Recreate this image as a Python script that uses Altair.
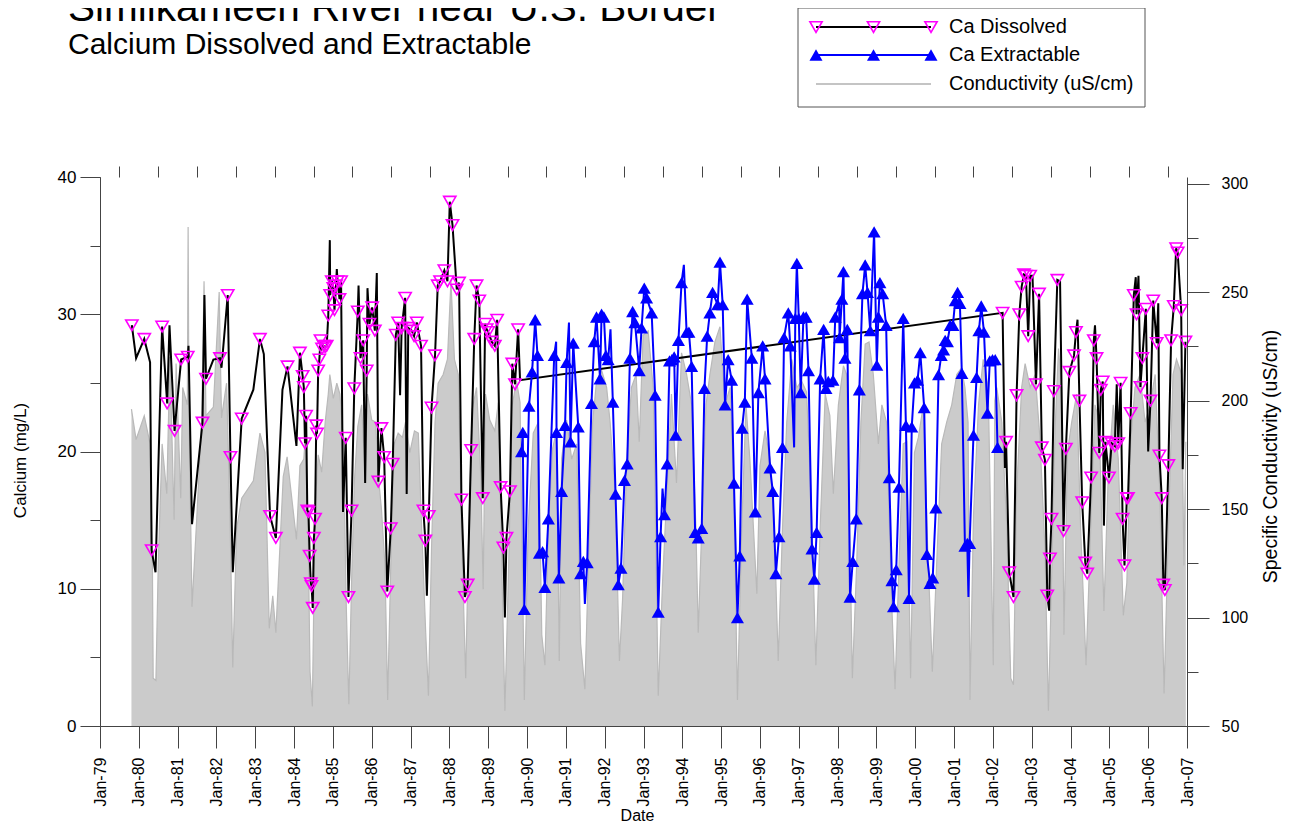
import altair as alt
import pandas as pd

# ---------------- data ----------------
# Ca Dissolved: sampled points (shown with markers)
dis_t = [1979.82, 1980.14, 1980.33, 1980.60, 1980.73, 1980.92, 1981.09, 1981.26, 1981.64, 1981.73,
         1982.09, 1982.29, 1982.36, 1982.65, 1983.12, 1983.38, 1983.53, 1983.83, 1984.15, 1984.22,
         1984.25, 1984.28, 1984.31, 1984.34, 1984.37, 1984.40, 1984.43, 1984.45, 1984.48, 1984.51,
         1984.54, 1984.57, 1984.59, 1984.62, 1984.65, 1984.68, 1984.72, 1984.76, 1984.80, 1984.84,
         1984.88, 1984.93, 1984.97, 1985.01, 1985.04, 1985.08, 1985.12, 1985.17, 1985.21, 1985.33,
         1985.40, 1985.48, 1985.55, 1985.64, 1985.71, 1985.78, 1985.87, 1985.94, 1986.01, 1986.08,
         1986.17, 1986.25, 1986.32, 1986.40, 1986.49, 1986.54, 1986.62, 1986.68, 1986.77, 1986.86,
         1986.94, 1987.03, 1987.09, 1987.16, 1987.27, 1987.33, 1987.38, 1987.47, 1987.54, 1987.63,
         1987.70, 1987.76, 1987.87, 1987.95, 1988.01, 1988.08, 1988.19, 1988.25, 1988.31, 1988.40,
         1988.47, 1988.56, 1988.64, 1988.70, 1988.77, 1988.86, 1988.92, 1988.96, 1989.00, 1989.09,
         1989.17, 1989.23, 1989.32, 1989.39, 1989.47, 1989.56, 1989.62, 1989.69, 1989.77,
         2002.25, 2002.34, 2002.42, 2002.53, 2002.61, 2002.68, 2002.74, 2002.80, 2002.85, 2002.91,
         2002.96, 2003.11, 2003.19, 2003.26, 2003.34, 2003.40, 2003.47, 2003.51, 2003.57, 2003.66,
         2003.82, 2003.88, 2003.97, 2004.09, 2004.14, 2004.23, 2004.30, 2004.38, 2004.43, 2004.53,
         2004.60, 2004.67, 2004.74, 2004.78, 2004.83, 2004.90, 2004.99, 2005.06, 2005.14, 2005.23,
         2005.29, 2005.34, 2005.39, 2005.45, 2005.48, 2005.55, 2005.63, 2005.70, 2005.80, 2005.85,
         2005.94, 2006.06, 2006.13, 2006.22, 2006.29, 2006.35, 2006.39, 2006.43, 2006.52, 2006.59,
         2006.66, 2006.72, 2006.76, 2006.85, 2006.96]
dis_v = [29.2, 28.2, 12.8, 29.1, 23.5, 21.5, 26.7, 26.9, 22.1, 25.3,
         26.8, 31.4, 19.6, 22.4, 28.2, 15.3, 13.7, 26.2, 27.2, 25.5,
         24.7, 20.6, 22.6, 15.7, 15.6, 12.4, 10.4, 10.2, 8.6, 13.7,
         15.1, 21.9, 21.3, 25.9, 26.7, 28.1, 27.5, 27.7, 27.6, 27.7,
         29.9, 31.4, 32.4, 31.9, 30.3, 32.1, 32.4, 31.1, 32.4, 21.0,
         9.4, 15.7, 24.6, 30.2, 26.8, 28.1, 25.9, 29.3, 30.5, 28.8,
         17.8, 21.7, 19.6, 9.8, 14.4, 19.1, 28.5, 29.4, 29.0, 31.2,
         29.0, 28.8, 28.4, 29.4, 27.7, 15.7, 13.5, 15.3, 23.2, 27.0,
         32.1, 32.4, 33.2, 32.4, 38.2, 36.5, 31.8, 32.3, 16.5, 9.4,
         10.3, 20.1, 28.2, 32.1, 31.0, 16.6, 29.3, 28.9, 28.7, 28.0,
         27.7, 29.6, 17.4, 13.0, 13.7, 17.1, 26.4, 24.9, 28.9,
         30.1, 20.7, 11.2, 9.4, 24.1, 30.0, 32.0, 32.9, 32.8, 28.4,
         32.8, 24.9, 31.5, 20.3, 19.4, 9.5, 12.2, 15.1, 24.4, 32.5,
         14.2, 20.2, 25.8, 27.0, 28.7, 23.7, 16.3, 11.9, 11.1, 18.1,
         28.1, 26.8, 19.9, 24.5, 25.1, 20.7, 18.1, 20.6, 20.4, 20.6,
         25.0, 15.1, 11.7, 16.6, 16.6, 22.8, 31.4, 30.0, 24.7, 26.8,
         30.4, 23.7, 31.0, 27.9, 19.7, 16.6, 10.3, 9.9, 19.0, 28.1,
         30.6, 34.8, 34.5, 30.3, 28.0]
# Ca Dissolved: extra line vertices without a marker
disx_t = [1979.93, 1980.29, 1980.43, 1980.79, 1981.28, 1981.37, 1981.69, 1981.92, 1982.13, 1982.42,
          1982.95, 1983.22, 1983.70, 1984.06, 1984.92, 1985.10, 1985.26, 1985.66, 1985.83, 1985.89,
          1986.13, 1986.73, 1986.90, 1987.42, 1989.43, 1989.82,
          2002.31, 2003.02, 2003.45, 2003.73, 2004.18, 2004.63, 2004.86, 2005.19, 2005.68, 2005.75,
          2006.00, 2006.26, 2006.89]
disx_v = [26.8, 26.5, 11.2, 29.2, 27.7, 14.7, 31.4, 26.7, 26.1, 11.2,
          24.5, 27.1, 24.5, 20.4, 35.4, 33.3, 15.6, 32.1, 17.7, 31.9,
          33.0, 24.1, 16.9, 9.5, 7.9, 25.2,
          18.8, 32.8, 8.4, 32.4, 29.6, 29.2, 14.6, 24.9, 32.7, 32.8,
          20.0, 30.8, 18.7]

# Ca Extractable: sampled points (markers)
ext_t = [1989.86, 1989.89, 1989.93, 1990.05, 1990.13, 1990.21, 1990.27, 1990.32, 1990.40, 1990.46,
         1990.55, 1990.70, 1990.76, 1990.82, 1990.89, 1990.98, 1991.02, 1991.12, 1991.19, 1991.32,
         1991.38, 1991.45, 1991.55, 1991.66, 1991.73, 1991.79, 1991.88, 1991.92, 1991.98, 1992.03,
         1992.09, 1992.21, 1992.28, 1992.35, 1992.42, 1992.51, 1992.58, 1992.65, 1992.72, 1992.78,
         1992.89, 1992.95, 1993.02, 1993.08, 1993.21, 1993.30, 1993.38, 1993.44, 1993.54, 1993.61,
         1993.67, 1993.73, 1993.79, 1993.83, 1993.90, 1993.98, 1994.11, 1994.17, 1994.24, 1994.33,
         1994.41, 1994.50, 1994.57, 1994.64, 1994.71, 1994.78, 1994.91, 1994.97, 1995.04, 1995.10,
         1995.18, 1995.27, 1995.33, 1995.42, 1995.48, 1995.54, 1995.61, 1995.67, 1995.79, 1995.88,
         1995.96, 1996.07, 1996.13, 1996.26, 1996.33, 1996.41, 1996.49, 1996.58, 1996.62, 1996.73,
         1996.78, 1996.91, 1996.95, 1997.00, 1997.05, 1997.12, 1997.19, 1997.25, 1997.34, 1997.40,
         1997.46, 1997.55, 1997.64, 1997.70, 1997.76, 1997.88, 1997.94, 1998.05, 1998.11, 1998.15,
         1998.19, 1998.25, 1998.32, 1998.39, 1998.48, 1998.56, 1998.64, 1998.71, 1998.77, 1998.84,
         1998.94, 1999.01, 1999.05, 1999.09, 1999.16, 1999.25, 1999.33, 1999.40, 1999.44, 1999.51,
         1999.58, 1999.69, 1999.76, 1999.84, 1999.91, 1999.98, 2000.06, 2000.13, 2000.23, 2000.30,
         2000.38, 2000.45, 2000.53, 2000.60, 2000.67, 2000.73, 2000.77, 2000.83, 2000.90, 2000.97,
         2001.03, 2001.09, 2001.15, 2001.20, 2001.28, 2001.34, 2001.40, 2001.50, 2001.58, 2001.64,
         2001.70, 2001.77, 2001.86, 2001.92, 2001.99, 2002.06, 2002.12]
ext_v = [20.0, 21.4, 8.5, 23.3, 25.8, 29.6, 27.0, 12.6, 12.7, 10.1,
         15.1, 27.0, 21.4, 10.8, 17.1, 21.9, 26.5, 20.7, 27.9, 21.8,
         11.1, 12.0, 11.9, 23.5, 28.0, 29.8, 25.3, 30.0, 29.8, 27.0,
         26.7, 23.6, 16.9, 10.3, 11.5, 17.9, 19.1, 26.8, 30.2, 29.4,
         25.9, 29.0, 31.9, 31.2, 30.1, 24.1, 8.3, 13.8, 15.4, 19.1,
         26.6, 26.7, 26.9, 21.2, 28.1, 32.3, 28.7, 28.7, 26.2, 14.1,
         13.7, 14.4, 24.6, 28.4, 30.1, 31.6, 30.7, 33.8, 30.7, 23.4,
         26.7, 25.2, 17.7, 7.9, 12.4, 21.7, 23.6, 31.1, 26.8, 15.6,
         24.3, 27.7, 25.3, 18.8, 17.1, 11.1, 13.8, 20.3, 28.3, 30.1,
         27.7, 29.7, 33.7, 29.7, 24.3, 29.8, 29.8, 25.9, 12.9, 10.7,
         14.1, 25.3, 28.9, 24.6, 25.1, 25.2, 29.8, 28.3, 31.1, 33.1,
         26.8, 28.9, 9.4, 12.0, 15.1, 24.5, 31.5, 33.6, 31.6, 28.8,
         36.0, 26.3, 29.8, 32.3, 31.5, 29.2, 18.1, 10.6, 8.7, 11.4,
         17.4, 29.7, 21.9, 9.3, 21.8, 25.0, 25.2, 27.2, 23.2, 12.5,
         10.4, 10.8, 15.9, 25.6, 27.0, 27.4, 28.1, 28.0, 29.2, 29.2,
         31.0, 31.6, 30.8, 25.7, 13.1, 13.3, 13.3, 21.2, 25.4, 28.8,
         30.6, 28.7, 22.8, 26.6, 26.7, 26.7, 20.3]
# Ca Extractable: extra line vertices without a marker
extx_t = [1990.75, 1991.08, 1991.49, 1992.15, 1993.49, 1994.04, 1996.88, 1998.04, 2001.37]
extx_v = [28.0, 29.4, 8.9, 28.9, 17.3, 33.6, 20.3, 30.8, 9.4]

# Specific conductivity (right axis)
cond_t = [1979.81, 1979.93, 1980.14, 1980.29, 1980.35, 1980.37, 1980.44, 1980.50, 1980.60, 1980.72,
          1980.80, 1980.91, 1980.96, 1981.08, 1981.13, 1981.25, 1981.27, 1981.29, 1981.37, 1981.49,
          1981.62, 1981.68, 1981.73, 1981.92, 1982.07, 1982.13, 1982.26, 1982.35, 1982.42, 1982.52,
          1982.65, 1982.95, 1983.12, 1983.25, 1983.36, 1983.45, 1983.53, 1983.72, 1983.82, 1984.06,
          1984.15, 1984.25, 1984.28, 1984.36, 1984.41, 1984.47, 1984.54, 1984.62, 1984.71, 1984.80,
          1984.88, 1984.92, 1985.01, 1985.10, 1985.18, 1985.27, 1985.34, 1985.41, 1985.48, 1985.55,
          1985.64, 1985.74, 1985.83, 1985.89, 1986.00, 1986.10, 1986.17, 1986.25, 1986.34, 1986.41,
          1986.49, 1986.58, 1986.68, 1986.79, 1986.87, 1986.98, 1987.10, 1987.20, 1987.28, 1987.39,
          1987.46, 1987.54, 1987.63, 1987.71, 1987.84, 1987.95, 1988.04, 1988.13, 1988.23, 1988.31,
          1988.42, 1988.50, 1988.59, 1988.70, 1988.81, 1988.87, 1988.93, 1989.04, 1989.17, 1989.26,
          1989.35, 1989.43, 1989.52, 1989.62, 1989.73, 1989.82, 1989.93, 1990.03, 1990.16, 1990.29,
          1990.38, 1990.46, 1990.55, 1990.66, 1990.76, 1990.83, 1990.89, 1991.02, 1991.15, 1991.28,
          1991.38, 1991.49, 1991.58, 1991.69, 1991.79, 1991.92, 1992.05, 1992.14, 1992.27, 1992.38,
          1992.46, 1992.57, 1992.69, 1992.81, 1992.89, 1992.99, 1993.12, 1993.25, 1993.34, 1993.38,
          1993.49, 1993.60, 1993.72, 1993.85, 1993.98, 1994.11, 1994.24, 1994.35, 1994.41, 1994.50,
          1994.61, 1994.71, 1994.84, 1994.97, 1995.10, 1995.23, 1995.33, 1995.42, 1995.53, 1995.64,
          1995.74, 1995.92, 1996.00, 1996.13, 1996.26, 1996.37, 1996.47, 1996.58, 1996.69, 1996.82,
          1996.95, 1997.07, 1997.20, 1997.33, 1997.44, 1997.55, 1997.68, 1997.80, 1997.89, 1998.02,
          1998.15, 1998.23, 1998.32, 1998.38, 1998.49, 1998.60, 1998.71, 1998.81, 1998.92, 1999.05,
          1999.14, 1999.26, 1999.39, 1999.48, 1999.58, 1999.69, 1999.78, 1999.88, 1999.98, 2000.08,
          2000.21, 2000.32, 2000.44, 2000.55, 2000.68, 2000.81, 2000.94, 2001.07, 2001.19, 2001.28,
          2001.36, 2001.41, 2001.50, 2001.63, 2001.75, 2001.88, 2002.01, 2002.05, 2002.10, 2002.23,
          2002.36, 2002.46, 2002.53, 2002.61, 2002.74, 2002.83, 2002.96, 2003.09, 2003.21, 2003.34,
          2003.43, 2003.51, 2003.60, 2003.69, 2003.77, 2003.83, 2003.92, 2004.03, 2004.16, 2004.26,
          2004.40, 2004.52, 2004.63, 2004.74, 2004.86, 2004.97, 2005.10, 2005.23, 2005.36, 2005.45,
          2005.55, 2005.66, 2005.79, 2005.92, 2006.05, 2006.18, 2006.30, 2006.41, 2006.52, 2006.64,
          2006.73, 2006.86, 2006.92, 2006.97]
cond_v = [196, 182, 193, 180, 124, 72, 71, 124, 180, 157,
          220, 145, 217, 155, 206, 198, 280, 198, 105, 145,
          191, 255, 193, 197, 250, 192, 208, 145, 77, 141,
          155, 163, 185, 176, 95, 110, 93, 165, 174, 136,
          170, 173, 181, 141, 75, 59, 150, 175, 167, 190,
          203, 212, 201, 208, 203, 181, 108, 60, 116, 162,
          188, 198, 165, 203, 191, 190, 165, 150, 124, 62,
          124, 180, 185, 183, 190, 176, 186, 185, 144, 93,
          64, 132, 190, 208, 212, 219, 255, 219, 212, 141,
          72, 141, 196, 206, 165, 113, 203, 191, 186, 199,
          124, 57, 119, 198, 209, 199, 62, 141, 185, 190,
          92, 78, 141, 178, 186, 80, 173, 191, 173, 180,
          88, 67, 124, 190, 209, 214, 206, 190, 157, 80,
          108, 173, 206, 212, 181, 230, 232, 206, 108, 64,
          116, 157, 203, 162, 222, 212, 198, 141, 93, 141,
          198, 212, 227, 234, 198, 206, 157, 62, 141, 198,
          173, 111, 170, 186, 173, 141, 80, 141, 190, 219,
          206, 209, 204, 149, 78, 141, 203, 193, 157, 198,
          216, 212, 132, 72, 124, 190, 226, 227, 212, 180,
          198, 190, 108, 67, 124, 180, 181, 72, 176, 183,
          198, 132, 75, 124, 180, 190, 198, 212, 215, 206,
          190, 62, 147, 198, 219, 206, 78, 200, 206, 190,
          141, 72, 69, 157, 206, 217, 206, 212, 183, 132,
          57, 116, 186, 224, 206, 92, 176, 190, 203, 141,
          78, 141, 198, 190, 103, 165, 198, 173, 101, 116,
          181, 206, 212, 190, 198, 212, 157, 65, 141, 212,
          219, 212, 124, 181]

# axis tick values
year_ticks = list(range(1979, 2008))
half_year_ticks = [y + 0.5 for y in range(1979, 2007)]
ca_ticks = [0, 10, 20, 30, 40]
ca_minor = [0, 5, 10, 15, 20, 25, 30, 35, 40]
sc_ticks = [50, 100, 150, 200, 250, 300]
sc_minor = [50, 75, 100, 125, 150, 175, 200, 225, 250, 275, 300]

# legend entries
leg_names = ["Ca Dissolved", "Ca Extractable", "Conductivity (uS/cm)"]

# ---------------- tables ----------------
dis_pts = pd.DataFrame({"t": dis_t, "v": dis_v})
dis_line = pd.concat([dis_pts, pd.DataFrame({"t": disx_t, "v": disx_v})]).sort_values("t")
ext_pts = pd.DataFrame({"t": ext_t, "v": ext_v})
ext_line = pd.concat([ext_pts, pd.DataFrame({"t": extx_t, "v": extx_v})]).sort_values("t")
cond = pd.DataFrame({"t": cond_t, "c": cond_v})

W, H = 1087, 549
FONT = "Liberation Sans"
AX = "#444444"

xs = alt.Scale(domain=[1979, 2007], nice=False, zero=False)
ca_s = alt.Scale(domain=[0, 40], nice=False)
sc_s = alt.Scale(domain=[50, 303], nice=False, zero=False)

x_major = alt.Axis(values=year_ticks, tickSize=22, tickColor=AX, domainColor=AX, grid=False,
                   labelAngle=270, labelAlign="right", labelBaseline="middle",
                   labelExpr="'Jan-' + slice('0' + (datum.value % 100), -2)",
                   labelFont=FONT, labelFontSize=16, labelColor="black", labelPadding=9,
                   labelFlush=False, labelOverlap=False,
                   title="Date", titleFont=FONT, titleFontSize=16, titleFontWeight="normal",
                   titleColor="black", titleX=537, titleY=94, titleBaseline="alphabetic",
                   zindex=1)
x_minor = alt.Axis(values=half_year_ticks, tickSize=11, tickColor=AX, domain=False, grid=False,
                   labels=False, title="", zindex=1)
yl_major = alt.Axis(orient="left", values=ca_ticks, tickSize=20, tickColor=AX, domainColor=AX,
                    grid=False, labelFont=FONT, labelFontSize=17, labelColor="black", labelPadding=4,
                    title="Calcium (mg/L)", titleFont=FONT, titleFontSize=17, titleFontWeight="normal",
                    titleColor="black", titleAngle=270, titleX=-80, titleY=283,
                    titleAlign="center", titleBaseline="middle", zindex=1)
yl_minor = alt.Axis(orient="left", values=ca_minor, tickSize=10, tickColor=AX, domain=False,
                    grid=False, labels=False, title="", zindex=1)
yr_major = alt.Axis(orient="right", values=sc_ticks, tickSize=22, tickColor=AX, domainColor=AX,
                    grid=False, labelFont=FONT, labelFontSize=16, labelColor="black", labelPadding=12,
                    title="Specific Conductivity (uS/cm)", titleFont=FONT, titleFontSize=19.5,
                    titleFontWeight="normal", titleColor="black", titleAngle=270, titleX=83,
                    titleY=279, titleAlign="center", titleBaseline="middle", zindex=1)
yr_minor = alt.Axis(orient="right", values=sc_minor, tickSize=11, tickColor=AX, domain=False,
                    grid=False, labels=False, title="", zindex=1)

area = alt.Chart(cond).mark_area(color="#cbcbcb", opacity=1).encode(
    x=alt.X("t:Q", scale=xs, axis=x_major),
    y=alt.Y("c:Q", scale=sc_s, axis=yr_major),
    y2=alt.datum(50),
)
cond_ln = alt.Chart(cond).mark_line(color="#b9b9b9", strokeWidth=1.2).encode(
    x=alt.X("t:Q", scale=xs, axis=x_minor),
    y=alt.Y("c:Q", scale=sc_s, axis=yr_minor),
)
dis_ln = alt.Chart(dis_line).mark_line(color="black", strokeWidth=2).encode(
    x=alt.X("t:Q", scale=xs, axis=None),
    y=alt.Y("v:Q", scale=ca_s, axis=yl_major),
    order="t:Q",
)
dis_pt = alt.Chart(dis_pts).mark_point(shape="triangle-down", color="#ff00ff", filled=False,
                                       size=150, strokeWidth=1.6, opacity=1).encode(
    x=alt.X("t:Q", scale=xs, axis=None),
    y=alt.Y("v:Q", scale=ca_s, axis=yl_minor),
)
ext_ln = alt.Chart(ext_line).mark_line(color="#0000ff", strokeWidth=2).encode(
    x=alt.X("t:Q", scale=xs, axis=None),
    y=alt.Y("v:Q", scale=ca_s, axis=None),
    order="t:Q",
)
ext_pt = alt.Chart(ext_pts).mark_point(shape="triangle-up", color="#0000ff", filled=True,
                                       size=170, opacity=1).encode(
    x=alt.X("t:Q", scale=xs, axis=None),
    y=alt.Y("v:Q", scale=ca_s, axis=None),
)

# ---------------- titles and legend (pixel positions relative to plot origin) ----------------
one = pd.DataFrame({"k": [0]})
title1 = alt.Chart(one).mark_text(text="Similkameen River near U.S. Border", font=FONT, fontSize=40.5,
                                  align="left", baseline="alphabetic", color="black").encode(
    x=alt.value(-32), y=alt.value(-156))
title2 = alt.Chart(one).mark_text(text="Calcium Dissolved and Extractable", font=FONT, fontSize=30,
                                  align="left", baseline="alphabetic", color="black").encode(
    x=alt.value(-32), y=alt.value(-123))

leg_box = alt.Chart(one).mark_rect(fill="white", stroke="#555555", strokeWidth=1).encode(
    x=alt.value(698), x2=alt.value(1045), y=alt.value(-169), y2=alt.value(-70))
leg_rows = pd.DataFrame({"name": leg_names, "py": [-150, -122, -93]})
leg_l1 = alt.Chart(one).mark_rule(color="black", strokeWidth=2).encode(
    x=alt.value(716), x2=alt.value(831), y=alt.value(-150))
leg_l2 = alt.Chart(one).mark_rule(color="#0000ff", strokeWidth=2).encode(
    x=alt.value(716), x2=alt.value(831), y=alt.value(-122))
leg_l3 = alt.Chart(one).mark_rule(color="#c4c4c4", strokeWidth=2).encode(
    x=alt.value(716), x2=alt.value(831), y=alt.value(-93))
leg_sym = pd.DataFrame({"px": [716, 773.5, 831]})
leg_p1 = alt.Chart(leg_sym).mark_point(shape="triangle-down", color="#ff00ff", filled=False,
                                       size=150, strokeWidth=1.6, opacity=1).encode(
    x=alt.X("px:Q", scale=None), y=alt.value(-150))
leg_p2 = alt.Chart(leg_sym).mark_point(shape="triangle-up", color="#0000ff", filled=True,
                                       size=170, opacity=1).encode(
    x=alt.X("px:Q", scale=None), y=alt.value(-122))
leg_txt = alt.Chart(leg_rows).mark_text(font=FONT, fontSize=20, align="left", baseline="middle",
                                        color="black").encode(
    x=alt.value(849), y=alt.Y("py:Q", scale=None), text="name:N")

chart = alt.layer(
    area, cond_ln, dis_ln, dis_pt, ext_ln, ext_pt,
    title1, title2, leg_box, leg_l1, leg_l2, leg_l3, leg_p1, leg_p2, leg_txt,
).resolve_scale(y="independent").resolve_axis(x="independent", y="independent").properties(
    width=W, height=H,
    autosize=alt.AutoSizeParams(type="none"),
    padding={"left": 92, "top": 169, "right": 95, "bottom": 97},
).configure_view(strokeWidth=0)

chart.save("out.html", embed_options={"renderer": "svg", "actions": False})
